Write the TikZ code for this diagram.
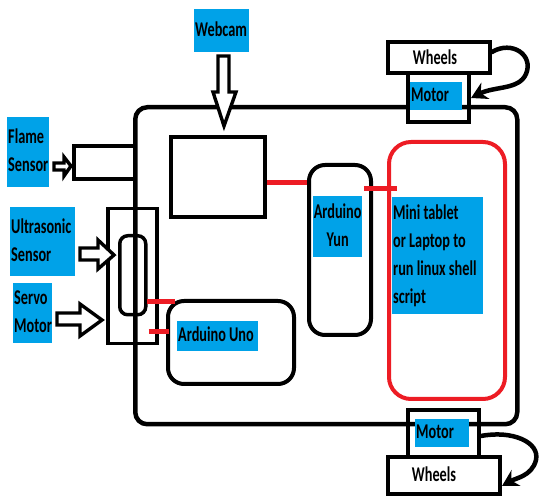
\documentclass[tikz,border=0pt]{standalone}
\usepackage{fontspec}
\setmainfont{Carlito}
\usetikzlibrary{arrows.meta,calc}
\definecolor{pblue}{RGB}{0,162,232}
\definecolor{pred}{RGB}{237,28,36}
\newcommand\labfont{\bfseries\fontsize{21}{28}\selectfont}
\newcommand\lt[2]{\makebox[#1][l]{\hspace{1pt}\scalebox{0.68}[1]{\begin{tabular}{@{}l@{}}#2\end{tabular}}}}
\newcommand\ct[2]{\makebox[#1][c]{\scalebox{0.68}[1]{\begin{tabular}{@{}c@{}}#2\end{tabular}}}}
\begin{document}
\begin{tikzpicture}[x=1pt,y=-1pt,
  lbl/.style={fill=pblue,inner sep=0pt,anchor=north west,font=\labfont},
  plain/.style={inner sep=0pt,font=\labfont},
  box/.style={draw=black,line width=4pt,inner sep=0pt,anchor=north west},
  rbox/.style={box,rounded corners=14pt},
  redlink/.style={draw=pred,line width=5pt},
  blockarrow/.style={draw=black,fill=white,line width=3.4pt,line join=miter},
  curvearrow/.style={draw=black,line width=4.5pt,line cap=round,-{Stealth[length=16pt,width=18pt]}}
]
\useasboundingbox (0,0) rectangle (542,497);

% chassis
\node[box,line width=4.5pt,rounded corners=12pt,minimum width=382pt,minimum height=317pt] (chassis) at (133,105) {};

% boxes
\node[box,minimum width=94pt,minimum height=80pt] (camera) at (169,135) {};
\node[box,minimum width=61pt,minimum height=33pt] (flamebox) at (72,144) {};
\node[box,line width=3.5pt,minimum width=49pt,minimum height=135pt] (bracket) at (106,207) {};
\node[box,line width=3.5pt,rounded corners=8pt,minimum width=26pt,minimum height=79pt] (ultra) at (118,234) {};
\node[rbox,rounded corners=16pt,minimum width=126pt,minimum height=83pt] (uno) at (166,299) {};
\node[rbox,rounded corners=16pt,minimum width=62pt,minimum height=170pt] (yun) at (307,163) {};
\node[box,draw=pred,rounded corners=22pt,minimum width=116pt,minimum height=257pt] (tablet) at (387,140) {};

% wheels and motors
\node[box,minimum width=102pt,minimum height=31pt] (wheelsT) at (386,40) {};
\node[box,minimum width=61pt,minimum height=49pt] (motorTbox) at (406,71) {};
\node[box,minimum width=71pt,minimum height=50pt] (motorBbox) at (406,408) {};
\node[box,fill=white,minimum width=112pt,minimum height=37pt] (wheelsB) at (386,455) {};

% red links
\draw[redlink] (camera.east |- 0,183) -- (yun.west |- 0,183);
\draw[redlink] ([xshift=-9pt]yun.east |- 0,189) -- ([xshift=10pt]tablet.west |- 0,189);
\draw[redlink] ([xshift=-1pt]ultra.east |- 0,302) -- ([xshift=9pt]uno.west |- 0,302);
\draw[redlink] ([xshift=-10pt]bracket.east |- 0,332) -- ([xshift=3pt]uno.west |- 0,332);

% labels
\node[lbl,minimum height=43pt] (webcam) at (194,9) {\lt{55pt}{Webcam}};
\node[lbl,minimum height=70pt] (flame) at (7,117) {\lt{42pt}{Flame\\Sensor}};
\node[lbl,minimum height=69pt] (ultralbl) at (10,207) {\lt{65pt}{Ultrasonic\\Sensor}};
\node[lbl,minimum height=60pt] (servo) at (13,283) {\lt{39pt}{Servo\\Motor}};
\node[lbl,minimum height=61pt] (yunlbl) at (313,196) {\ct{49pt}{Arduino\\Yun}};
\node[lbl,minimum height=117pt] (tabletlbl) at (392,197) {\lt{91pt}{Mini tablet\\or Laptop to\\run linux shell\\script}};
\node[lbl,minimum height=30pt] (unolbl) at (177,321) {\lt{81pt}{Arduino Uno}};
\node[lbl,minimum height=25pt] (motorT) at (410,82) {\lt{52pt}{Motor}};
\node[lbl,minimum height=27pt] (motorB) at (415,419) {\lt{54pt}{Motor}};
\node[plain] (wheelsTtxt) at (435,57) {\scalebox{0.68}[1]{Wheels}};
\node[plain] (wheelsBtxt) at (434,474) {\scalebox{0.68}[1]{Wheels}};

% block arrows
\draw[blockarrow] (218,56) -- (229,56) -- (229,92) -- (236,92) -- (224,126) -- (213,92) -- (218,92) -- cycle;
\draw[blockarrow] (54,163) -- (64,163) -- (64,157) -- (71,166) -- (64,176) -- (64,170) -- (54,170) -- cycle;
\draw[blockarrow] (80,248) -- (98,248) -- (98,240) -- (114,255) -- (98,269) -- (98,260) -- (80,260) -- cycle;
\draw[blockarrow] (57,313) -- (80,313) -- (80,304) -- (102,320) -- (80,336) -- (80,325) -- (57,325) -- cycle;

% curved arrows
\draw[curvearrow] (wheelsT.east |- 0,52) .. controls (512,40) and (534,55) .. (526,74)
  .. controls (519,90) and (495,86) .. (motorTbox.east |- 0,98);
\draw[curvearrow] (motorBbox.east |- 0,436) .. controls (512,430) and (540,442) .. (536,460)
  .. controls (532,476) and (516,478) .. (wheelsB.east |- 0,486);
\end{tikzpicture}
\end{document}
